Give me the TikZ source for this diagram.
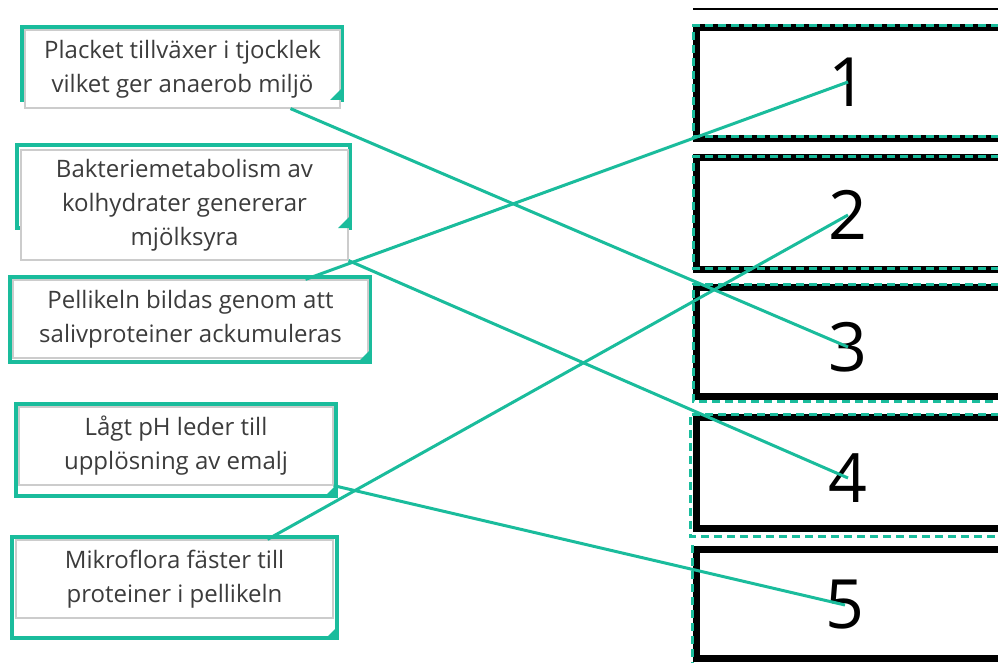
\documentclass[tikz,border=0pt]{standalone}
\usepackage{fontspec}
\setmainfont{Open Sans}
\definecolor{quizteal}{RGB}{26,188,156}
\definecolor{quiztext}{RGB}{60,60,60}

\begin{document}
\begin{tikzpicture}
[x=1pt,y=-1pt,
	 card/.style={draw=gray!40,line width=1.2pt,fill=white,align=center,text=quiztext,inner sep=0pt,
	   font=\fontsize{24}{34}\selectfont},
	 frame/.style={draw=quizteal,line width=3.5pt},
	 corner/.style={fill=quizteal},
	 slot/.style={draw=black,line width=7pt},
	 slotmark/.style={draw=quizteal,line width=3pt,dash pattern=on 8pt off 5pt},
	 number/.style={inner sep=0pt,font=\fontsize{68}{68}\selectfont},
	 link/.style={draw=quizteal,line width=3pt}];
\useasboundingbox (0,0) rectangle (998,663);
\clip (0,0) rectangle (998,663);

% teal frames behind the cards
\draw[frame] (22,27) rectangle (342,100);
\draw[frame] (17,145) rectangle (350,228);
\draw[frame] (10,277) rectangle (370,362);
\draw[frame] (16,404) rectangle (336,496);
\draw[frame] (12,537) rectangle (337,638);

\node[card,minimum width=315pt,minimum height=78pt] (placket) at (182.5,69)
  {Placket tillväxer i tjocklek\\vilket ger anaerob miljö};
\node[card,minimum width=327pt,minimum height=110pt] (bakterie) at (184.5,205)
  {Bakteriemetabolism av\\kolhydrater genererar\\mjölksyra};
\node[card,minimum width=355pt,minimum height=78pt] (pellikel) at (190.5,319)
  {Pellikeln bildas genom att\\salivproteiner ackumuleras};
\node[card,minimum width=314pt,minimum height=78pt] (lagt) at (176,446)
  {Lågt pH leder till\\upplösning av emalj};
\node[card,minimum width=317pt,minimum height=78pt] (mikro) at (174.5,579)
  {Mikroflora fäster till\\proteiner i pellikeln};

\fill[corner] (342,100) -- (342,88) -- (330,100) -- cycle;
\fill[corner] (350,228) -- (350,216) -- (338,228) -- cycle;
\fill[corner] (370,362) -- (370,350) -- (358,362) -- cycle;
\fill[corner] (336,496) -- (336,485) -- (325,496) -- cycle;
\fill[corner] (337,638) -- (337,627) -- (326,638) -- cycle;

% answer slots
\draw[line width=1.5pt] (693,9) -- (1000,9);
\foreach \ya/\yb/\ta/\tb/\tl in {27.5/138.5/26/137/693, 157.5/269/157/268/693,
    287/396/284/401/693, 417/528/414/536/690}
{
  \draw[slot] (696,\ya) rectangle (1012,\yb);
  \draw[slotmark] (1012,\ta) -- (\tl,\ta) -- (\tl,\tb) -- (1012,\tb);
}
\draw[slot] (696,549) rectangle (1012,658);
\draw[slotmark] (692,545) -- (692,670);

\node[number] (n1) at (848,82) {1};
\node[number] (n2) at (848,215) {2};
\node[number] (n3) at (848,347) {3};
\node[number] (n4) at (848,478) {4};
\node[number] (n5) at (845,605) {5};

\draw[link] ([xshift=108pt]placket.south) -- (n3.center);
\draw[link] (bakterie.south east) -- (n4.center);
\draw[link] ([xshift=115pt]pellikel.north) -- (n1.center);
\draw[link] (lagt.south east) -- (n5.center);
\draw[link] ([xshift=93pt]mikro.north) -- (n2.center);

\end{tikzpicture}
\end{document}
